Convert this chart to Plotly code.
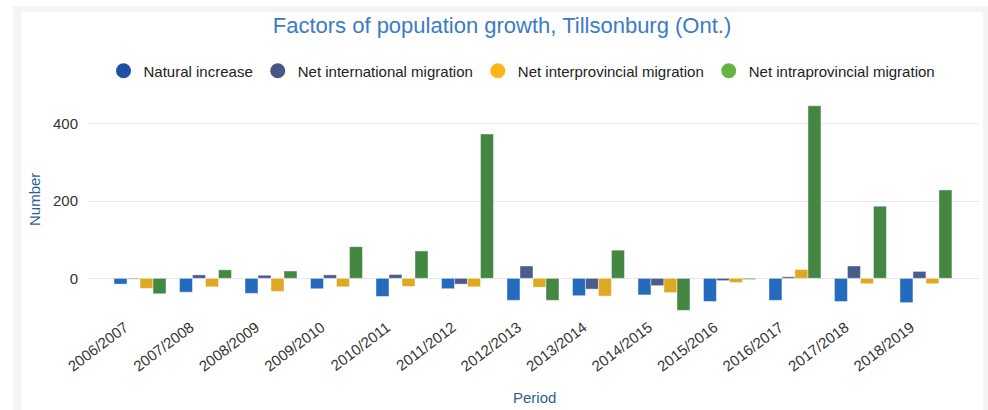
import plotly.graph_objects as go

# Population growth components by period, Tillsonburg (Ont.)
periods = ["2006/2007", "2007/2008", "2008/2009", "2009/2010", "2010/2011",
           "2011/2012", "2012/2013", "2013/2014", "2014/2015", "2015/2016",
           "2016/2017", "2017/2018", "2018/2019"]
natural_increase = [-15, -36, -39, -27, -47, -27, -57, -45, -43, -60, -57, -60, -63]
net_international = [-2, 9, 8, 9, 10, -15, 32, -28, -19, -6, 4, 32, 18]
net_interprovincial = [-26, -22, -34, -22, -21, -22, -23, -46, -37, -11, 23, -14, -14]
net_intraprovincial = [-40, 22, 19, 82, 71, 374, -57, 73, -83, -3, 447, 187, 229]

series_names = ["Natural increase", "Net international migration",
                "Net interprovincial migration", "Net intraprovincial migration"]
series_values = [natural_increase, net_international, net_interprovincial, net_intraprovincial]
bar_colors = ["#246BBD", "#4A5B8C", "#DFA823", "#438743"]
legend_colors = ["#1F4FA6", "#4A5584", "#FDB51A", "#67B245"]

FONT = "Liberation Sans, Arial, Helvetica, sans-serif"
AXIS_TITLE_COLOR = "#2D5F91"
W, H = 988, 410
PL, PR, PT, PB = 88, 979, 100, 315  # plot area edges in px

fig = go.Figure()

for name, vals, col in zip(series_names, series_values, bar_colors):
    fig.add_trace(go.Bar(
        x=periods, y=vals, name=name, showlegend=False,
        marker=dict(color=col, line=dict(color="rgba(255,255,255,0.45)", width=1)),
    ))

# circular legend markers
for name, col in zip(series_names, legend_colors):
    fig.add_trace(go.Scatter(
        x=[None], y=[None], mode="markers", name=name,
        marker=dict(color=col, size=15, symbol="circle"),
    ))


def px_x(px):
    return (px - PL) / (PR - PL)


def px_y(py):
    return (PB - py) / (PB - PT)


# light grey frame around the white panel
shapes = [
    dict(type="rect", xref="paper", yref="paper", layer="below",
         x0=px_x(13), x1=px_x(995), y0=px_y(420), y1=px_y(6),
         fillcolor="#F4F4F4", line=dict(width=0)),
    dict(type="rect", xref="paper", yref="paper", layer="below",
         x0=px_x(21), x1=px_x(983), y0=px_y(420), y1=px_y(12),
         fillcolor="#FFFFFF", line=dict(width=0)),
]

annotations = [
    dict(text="Number", xref="paper", yref="paper", x=px_x(34), y=px_y(200),
         xanchor="center", yanchor="middle", textangle=-90, showarrow=False,
         font=dict(size=15, color=AXIS_TITLE_COLOR, family=FONT)),
    dict(text="Period", xref="paper", yref="paper", x=px_x(534), y=px_y(397),
         xanchor="center", yanchor="middle", showarrow=False,
         font=dict(size=15, color=AXIS_TITLE_COLOR, family=FONT)),
]

fig.update_layout(
    width=W, height=H,
    margin=dict(l=PL, r=W - PR, t=PT, b=H - PB, autoexpand=False),
    paper_bgcolor="#FFFFFF", plot_bgcolor="rgba(0,0,0,0)",
    font=dict(family=FONT, color="#333333"),
    barmode="group", bargap=0.206, bargroupgap=0,
    shapes=shapes, annotations=annotations,
    title=dict(text="Factors of population growth, Tillsonburg (Ont.)",
               font=dict(size=22, color="#3A7BC8", family=FONT),
               xref="container", yref="container",
               x=502 / W, y=1 - 25 / H, xanchor="center", yanchor="middle"),
    legend=dict(orientation="h", xref="container", yref="container",
                x=522 / W, y=1 - 71 / H, xanchor="center", yanchor="middle",
                font=dict(size=15, color="#222222", family=FONT),
                itemwidth=30, bgcolor="rgba(0,0,0,0)"),
    xaxis=dict(range=[-0.794, 12.81], tickangle=-37, showgrid=False,
               showline=False, zeroline=False, ticklabelshift=-15,
               tickfont=dict(size=15, color="#333333")),
    yaxis=dict(range=[-95, 462], tickvals=[0, 200, 400],
               showgrid=True, gridcolor="#E8E8E8", gridwidth=1,
               zeroline=False, showline=False,
               ticks="outside", ticklen=6, tickcolor="rgba(0,0,0,0)",
               tickfont=dict(size=15, color="#333333")),
)

fig.write_html("out.html")
